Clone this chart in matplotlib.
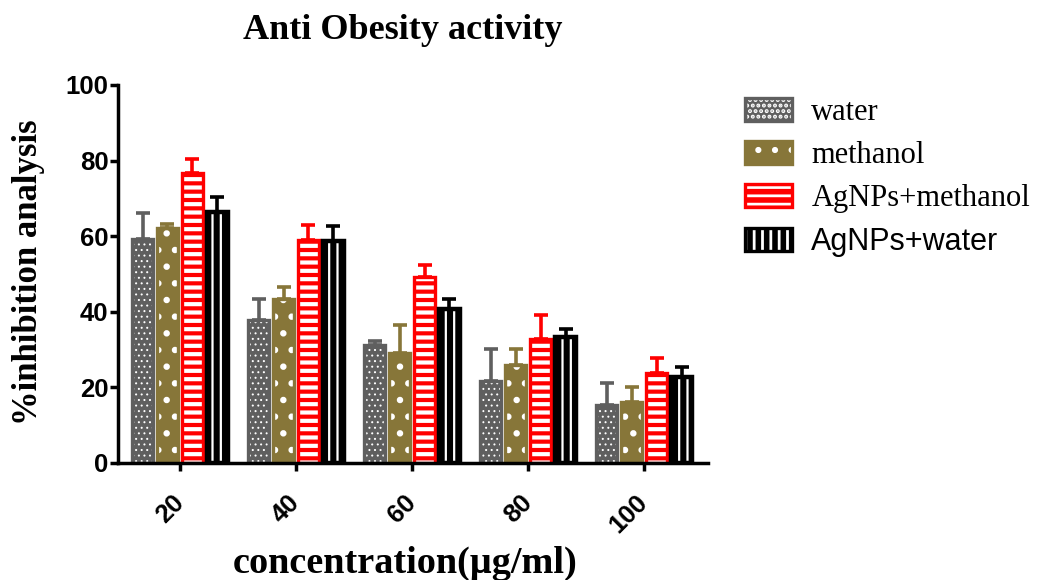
import matplotlib.pyplot as plt
import numpy as np
from matplotlib.patches import Patch
from matplotlib.legend_handler import HandlerTuple

concentrations = ['20', '40', '60', '80', '100']
series_names = ['water', 'methanol', 'AgNPs+methanol', 'AgNPs+water']

water = [59.2, 37.8, 31.2, 21.8, 15.4]
water_err = [7.0, 5.6, 1.2, 8.3, 5.8]
methanol = [62.1, 43.4, 29.2, 25.9, 16.2]
methanol_err = [1.0, 3.2, 7.3, 4.2, 3.8]
agnps_methanol = [76.6, 59.0, 49.3, 32.7, 23.9]
agnps_methanol_err = [3.7, 4.0, 3.1, 6.5, 4.0]
agnps_water = [66.5, 58.8, 40.7, 33.4, 22.8]
agnps_water_err = [3.8, 3.9, 2.6, 2.0, 2.6]

values = [water, methanol, agnps_methanol, agnps_water]
errors = [water_err, methanol_err, agnps_methanol_err, agnps_water_err]

colors = ['#5f5f5f', '#877639', '#ff0000', '#000000']
hatches = ['...', '.', '--', '||']
hatch_widths = [0.7, 2.2, 3.0, 1.6]
edge_widths = [2.4, 2.4, 2.4, 3.2]

SERIF = 'Liberation Serif'
SANS = 'Liberation Sans'

plt.rcParams['hatch.linewidth'] = 2.0

fig = plt.figure(figsize=(10.53, 5.8), dpi=100)
ax = fig.add_axes([118 / 1053, 1 - 463 / 580, 590 / 1053, 378 / 580])

x = np.arange(len(concentrations))
step = 0.215
width = 0.185
handles = []
for i in range(4):
    pos = x + (i - 1.5) * step
    fill = ax.bar(pos, values[i], width, color=colors[i], edgecolor='white',
                  hatch=hatches[i], linewidth=0, zorder=2)
    for p in fill:
        if hasattr(p, 'set_hatch_linewidth'):
            p.set_hatch_linewidth(hatch_widths[i])
    ax.bar(pos, values[i], width, facecolor='none', edgecolor=colors[i],
           linewidth=edge_widths[i], zorder=3)
    ax.errorbar(pos, values[i], yerr=[np.zeros(len(x)), errors[i]], fmt='none',
                ecolor=colors[i], elinewidth=2.6, capsize=5, capthick=2.6, zorder=1)

    h_fill = Patch(facecolor=colors[i], edgecolor='white', hatch=hatches[i], linewidth=0)
    if hasattr(h_fill, 'set_hatch_linewidth'):
        h_fill.set_hatch_linewidth(hatch_widths[i])
    h_edge = Patch(facecolor='none', edgecolor=colors[i], linewidth=2.4)
    handles.append((h_fill, h_edge))

ax.set_xlim(-0.534, 4.55)
ax.set_ylim(0, 100)
ax.set_yticks([0, 20, 40, 60, 80, 100])
ax.set_xticks(x)
ax.set_xticklabels(concentrations, rotation=45, ha='right', va='center',
                   rotation_mode='anchor', fontsize=18.5, fontweight='bold', family=SANS)
for lab in ax.get_yticklabels():
    lab.set_fontsize(18.5)
    lab.set_fontweight('bold')
    lab.set_family(SANS)

for side in ['top', 'right']:
    ax.spines[side].set_visible(False)
for side in ['left', 'bottom']:
    ax.spines[side].set_linewidth(2.5)
    ax.spines[side].set_zorder(4)
ax.tick_params(axis='both', length=5.5, width=2.5, direction='out')
ax.tick_params(axis='y', pad=1.5)
ax.tick_params(axis='x', pad=20)

fig.text(403 / 1053, 1 - 39 / 580, 'Anti Obesity activity', ha='center', va='baseline',
         fontsize=26, fontweight='bold', family=SERIF)
fig.text(29 / 1053, 1 - 272 / 580, '%inhibition analysis', rotation=90, ha='center',
         va='center', fontsize=25, fontweight='bold', family=SERIF)
fig.text(405 / 1053, 1 - 563 / 580, 'concentration(µg/ml)', ha='center', va='center',
         fontsize=27.5, fontweight='bold', family=SERIF)

leg = fig.legend(handles, series_names, handler_map={tuple: HandlerTuple(ndivide=1, pad=0)},
                 loc='upper left', bbox_to_anchor=(745 / 1053, 1 - 98 / 580),
                 frameon=False, fontsize=22, handlelength=1.55, handleheight=0.8,
                 handletextpad=0.62, labelspacing=0.45, borderpad=0, borderaxespad=0)
for txt, fam in zip(leg.get_texts(), [SERIF, SERIF, SERIF, SANS]):
    txt.set_family(fam)

fig.savefig('out.png', dpi=100)
